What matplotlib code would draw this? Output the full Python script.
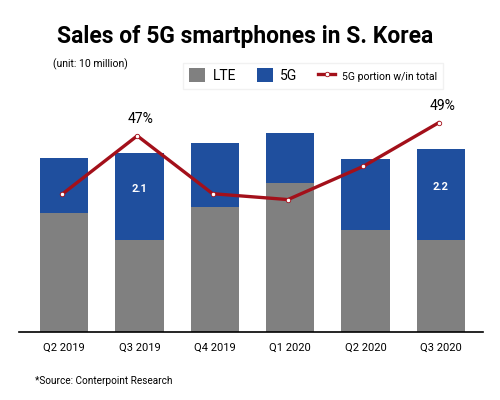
import numpy as np
import matplotlib.pyplot as plt
from matplotlib.patches import Patch
from matplotlib.lines import Line2D

# data (unit: 10 million)
quarters = ['Q2 2019', 'Q3 2019', 'Q4 2019', 'Q1 2020', 'Q2 2020', 'Q3 2020']
lte = [2.87, 2.22, 3.02, 3.59, 2.46, 2.22]
sales_5g = [1.33, 2.10, 1.54, 1.21, 1.71, 2.20]
portion = [38.0, 47.0, 38.1, 37.2, 42.3, 49.0]
labelled_5g = {1: '2.1', 5: '2.2'}
labelled_pct = {1: '47%', 5: '49%'}

plt.rcParams['font.family'] = ['Roboto', 'DejaVu Sans']

gray = '#808080'
blue = '#1f4f9e'
red = '#a3101a'

fig = plt.figure(figsize=(5, 4), dpi=100)
ax = fig.add_axes([0.038, 0.17, 0.928, 0.58])
x = np.arange(len(quarters))

ax.bar(x, lte, width=0.64, color=gray, zorder=2)
ax.bar(x, sales_5g, width=0.64, bottom=lte, color=blue, zorder=2)
for i, txt in labelled_5g.items():
    ax.text(x[i], lte[i] + sales_5g[i] * 0.58, txt, color='white',
            fontsize=8, fontweight='bold', ha='center', va='center', zorder=3)

ax.set_xlim(-0.6, 5.56)
ax.set_ylim(0, 5.59)
ax.set_yticks([])
for s in ['top', 'right', 'left']:
    ax.spines[s].set_visible(False)
ax.spines['bottom'].set_linewidth(1.2)
ax.set_xticks(x)
ax.set_xticklabels(quarters, fontsize=8)
ax.tick_params(axis='x', length=0, pad=8)

# 5G share line on its own scale
ax2 = ax.twinx()
ax2.plot(x - 0.03, portion, color=red, lw=2.4, marker='o', ms=3.2,
         mfc='white', mec=red, mew=0.6, zorder=4)
ax2.set_ylim(16.85, 52.5)
ax2.set_yticks([])
for s in ['top', 'right', 'left', 'bottom']:
    ax2.spines[s].set_visible(False)
for i, txt in labelled_pct.items():
    ax2.text(x[i] + 0.02, portion[i] + 2.6, txt, fontsize=10,
             ha='center', va='center')

fig.text(0.49, 0.91, 'Sales of 5G smartphones in S. Korea', fontsize=16.5,
         fontweight='bold', ha='center', va='center')
fig.text(0.106, 0.84, '(unit: 10 million)', fontsize=7.5, ha='left', va='center')
fig.text(0.07, 0.047, '*Source: Conterpoint Research', fontsize=7.2,
         ha='left', va='center')

handles = [Patch(facecolor=gray, label='LTE'),
           Patch(facecolor=blue, label='5G'),
           Line2D([], [], color=red, lw=2.4, marker='o', ms=3.2, mfc='white',
                  mec=red, mew=0.6, label='5G portion w/in total')]
leg = fig.legend(handles=handles, loc='center', bbox_to_anchor=(0.626, 0.811),
                 ncol=3, frameon=True, fancybox=False, edgecolor='#eeeeee',
                 handlelength=1.2, handleheight=1.2, columnspacing=1.5,
                 handletextpad=0.5, borderpad=0.4)
for t, fs in zip(leg.get_texts(), [10, 10, 7.5]):
    t.set_fontsize(fs)

fig.savefig('out.png', dpi=100)
